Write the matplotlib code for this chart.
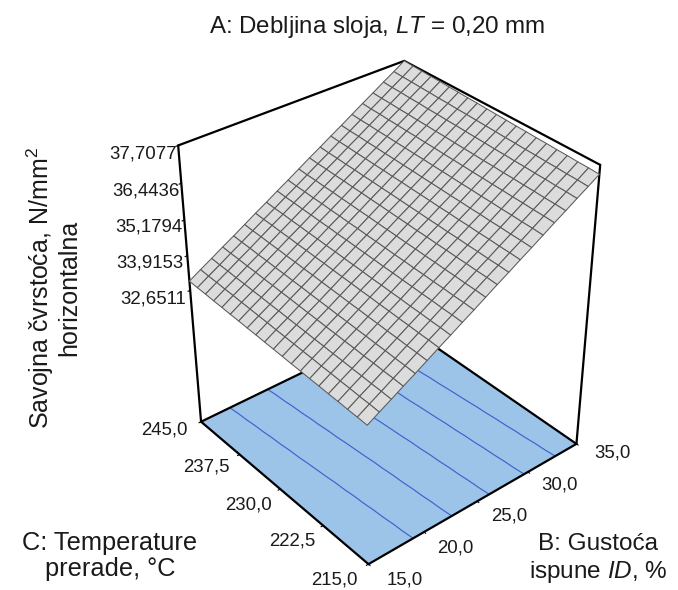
import numpy as np
import matplotlib
matplotlib.use("Agg")
import matplotlib.pyplot as plt
from mpl_toolkits.mplot3d import proj3d

plt.rcParams['font.family'] = ['Liberation Sans', 'DejaVu Sans']
plt.rcParams['mathtext.fontset'] = 'custom'
plt.rcParams['mathtext.it'] = 'Liberation Sans:italic'
plt.rcParams['mathtext.rm'] = 'Liberation Sans'

title = "A: Debljina sloja, $\\mathit{LT}$ = 0,20 mm"
y_label = "Savojna čvrstoća, N/mm$^2$\nhorizontalna"
c_label = "C: Temperature\nprerade, °C"
b_label = "B: Gustoća\nispune $\\mathit{ID}$, %"
b_ticks = [15.0, 20.0, 25.0, 30.0, 35.0]
c_ticks = [215.0, 222.5, 230.0, 237.5, 245.0]
z_ticks = [32.6511, 33.9153, 35.1794, 36.4436, 37.7077]
z_floor = 27.5
z_along_b = [32.68, 32.92, 33.15, 33.39, 33.62, 33.86, 34.10, 34.33, 34.57, 34.80, 35.04,
             35.28, 35.51, 35.75, 35.98, 36.22, 36.46, 36.69, 36.93, 37.16, 37.40]
z_along_c = [0.00, 0.02, 0.03, 0.05, 0.06, 0.08, 0.09, 0.11, 0.12, 0.14, 0.155,
             0.17, 0.19, 0.20, 0.22, 0.23, 0.25, 0.26, 0.28, 0.29, 0.31]
contour_levels = [33.62, 34.47, 35.32, 36.13, 36.88]

W, H = 678, 590
fig = plt.figure(figsize=(W/100, H/100), dpi=100, facecolor='white')
ax = fig.add_axes([0, 0, 1, 1], projection='3d', computed_zorder=False)
ax.set_proj_type('persp')
ax.view_init(elev=34.6025, azim=-129.7729)
ax._dist = 5.9606
ax.set_box_aspect((1.1807, 1.1848, 1.4091))
ax.set_xlim(15, 35, view_margin=0)
ax.set_ylim(215, 245, view_margin=0)
zt = z_ticks[-1]; zf = z_floor
ax.set_zlim(zf, zt, view_margin=0)
ax.set_axis_off()
ax.patch.set_alpha(0)

# place the axes so that one projected unit has the wanted pixel scale
s, tx, ty = 1631.89, 387.09, 302.01
ax.apply_aspect()
pos = ax.get_position()
p0 = ax.transData.transform((0, 0))
s0 = ax.transData.transform((1, 0))[0] - p0[0]
k = s / s0
Lpx, Bpx, Wpx, Hpx = pos.x0*W, pos.y0*H, pos.width*W, pos.height*H
newL = tx + (Lpx - p0[0])*k
newB = (H - ty) + (Bpx - p0[1])*k
ax.set_position([newL/W, newB/H, Wpx*k/W, Hpx*k/H])
ax.apply_aspect()

b = np.linspace(b_ticks[0], b_ticks[-1], len(z_along_b))
c = np.linspace(c_ticks[0], c_ticks[-1], len(z_along_c))
B, C = np.meshgrid(b, c)
Z = np.array(z_along_c)[:, None] + np.array(z_along_b)[None, :]

# floor
bb, cc = np.meshgrid(b_ticks[::4], c_ticks[::4])
ax.plot_surface(bb, cc, np.full_like(bb, zf), color='#9cc3e8', shade=False, linewidth=0,
                antialiased=False, zorder=1)
# contours on the floor
ax.contour(B, C, Z, levels=contour_levels, zdir='z', offset=zf, colors='#3f62cf',
           linewidths=0.85, zorder=2)
# box
blk = dict(color='black', lw=1.6, zorder=3, solid_capstyle='round')
b0, b1 = b_ticks[0], b_ticks[-1]
c0, c1 = c_ticks[0], c_ticks[-1]
ax.plot([b0, b1], [c0, c0], [zf, zf], **blk)
ax.plot([b0, b0], [c0, c1], [zf, zf], **blk)
ax.plot([b1, b1], [c0, c1], [zf, zf], **blk)
ax.plot([b0, b1], [c1, c1], [zf, zf], **blk)
ax.plot([b0, b0], [c1, c1], [zf, zt], **blk)
ax.plot([b1, b1], [c0, c0], [zf, zt], **blk)
ax.plot([b0, b1], [c1, c1], [zt, zt], **blk)
ax.plot([b1, b1], [c0, c1], [zt, zt], **blk)
# small ticks
tk = dict(color='black', lw=0.8, zorder=3)
for v in b_ticks:
    ax.plot([v, v], [c0, c0-0.25], [zf, zf], **tk)
for v in c_ticks:
    ax.plot([b0, b0-0.18], [v, v], [zf, zf], **tk)
for v in z_ticks:
    ax.plot([b0, b0-0.18], [c1, c1], [v, v], **tk)
# surface
ax.plot_surface(B, C, Z, color='#dcdcdc', edgecolor='#5a5a5a', linewidth=0.75, shade=False,
                rstride=1, cstride=1, antialiased=True, zorder=4)

M = ax.get_proj()
def label(x, y, z, txt, dx, dy, ha):
    vx, vy, _ = proj3d.proj_transform(x, y, z, M)
    ax.annotate(txt, (vx, vy), xycoords='data', xytext=(dx, -dy), textcoords='offset pixels',
                ha=ha, va='center', fontsize=13.4, color='#1a1a1a', annotation_clip=False)

def fmt(v, n):
    return f"{v:.{n}f}".replace('.', ',')

b_off = [(18, 16), (13, 16), (14, 15), (13, 13), (18, 9)]
c_off = [(-11, 16), (-8, 15), (-8, 16), (-10, 12), (-13, 8)]
z_off = [(-4, 9), (-4, 7), (-2, 7), (-2, 8), (-1, 9)]
for v, (dx, dy) in zip(b_ticks, b_off):
    label(v, c0, zf, fmt(v, 1), dx, dy, 'left')
for v, (dx, dy) in zip(c_ticks, c_off):
    label(b0, v, zf, fmt(v, 1), dx, dy, 'right')
for v, (dx, dy) in zip(z_ticks, z_off):
    label(b0, c1, v, fmt(v, 4), dx, dy, 'right')

for ch in ax.get_children():
    ch.set_clip_on(False)

fig.text(377/W, 1-27/H, title, fontsize=17.4, ha='center', va='center', color='#1a1a1a')
fig.text(53/W, 1-288/H, y_label, fontsize=18, rotation=90, ha='center', va='center',
         linespacing=1.1, multialignment='center', color='#1a1a1a')
fig.text(110/W, 1-556/H, c_label, fontsize=18.3, ha='center', va='center', linespacing=1.15,
         color='#1a1a1a')
fig.text(598/W, 1-559/H, b_label, fontsize=17.5, ha='center', va='center', linespacing=1.2,
         color='#1a1a1a')
fig.savefig('out.png', dpi=100, facecolor='white')
